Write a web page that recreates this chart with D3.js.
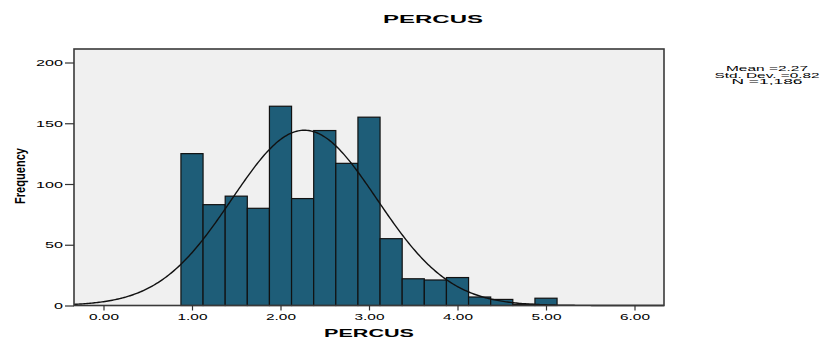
<!DOCTYPE html>
<html>
<head>
<meta charset="utf-8">
<script src="https://cdn.jsdelivr.net/npm/d3@7/dist/d3.min.js"></script>
<style>
  html, body { margin: 0; padding: 0; background: #ffffff; }
  svg { display: block; }
  text { font-family: "Liberation Sans", Arial, sans-serif; fill: #000; }
</style>
</head>
<body>
<svg id="chart" width="825" height="344"></svg>
<script>
// Histogram of PERCUS with fitted normal curve
const binCenters = [1.00, 1.25, 1.50, 1.75, 2.00, 2.25, 2.50, 2.75, 3.00, 3.25, 3.50, 3.75, 4.00, 4.25, 4.50, 4.75, 5.00];
const counts     = [125, 83, 90, 80, 164, 88, 144, 117, 155, 55, 22, 21, 23, 7, 5, 1, 6];
const binWidth = 0.25;
const fitMean = 2.27;
const fitSd = 0.82;
const fitN = 1186;
const xTicks = [0, 1, 2, 3, 4, 5, 6];
const xTickLabels = ["0.00", "1.00", "2.00", "3.00", "4.00", "5.00", "6.00"];
const yTicks = [0, 50, 100, 150, 200];
const statsLines = ["Mean =2.27", "Std. Dev. =0.82", "N =1,186"];

const svg = d3.select("#chart");
const plot = { left: 74, right: 664, top: 49, bottom: 305.5 };

const x = d3.scaleLinear().domain([-1 / 3, 19 / 3]).range([plot.left, plot.right]);
const y = d3.scaleLinear().domain([0, 200]).range([plot.bottom, 62.5]);

// stretched text helper: fixed rendered width
function stretchText(sel, width) {
  sel.attr("textLength", width).attr("lengthAdjust", "spacingAndGlyphs");
}

// plot background
svg.append("rect")
  .attr("x", plot.left).attr("y", plot.top)
  .attr("width", plot.right - plot.left).attr("height", plot.bottom - plot.top)
  .attr("fill", "#f0f0f0");

// bars
svg.append("g").selectAll("rect")
  .data(binCenters.map((c, i) => ({ c, n: counts[i] })))
  .join("rect")
  .attr("x", d => x(d.c - binWidth / 2))
  .attr("width", d => x(d.c + binWidth / 2) - x(d.c - binWidth / 2))
  .attr("y", d => y(d.n))
  .attr("height", d => y(0) - y(d.n))
  .attr("fill", "#1e5d78")
  .attr("stroke", "#111")
  .attr("stroke-width", 1.2);

// normal curve
const pdf = v => Math.exp(-0.5 * ((v - fitMean) / fitSd) ** 2) / (fitSd * Math.sqrt(2 * Math.PI));
const curvePts = d3.range(0, 401).map(i => {
  const v = x.domain()[0] + (x.domain()[1] - x.domain()[0]) * i / 400;
  return [v, fitN * binWidth * pdf(v)];
});
svg.append("path")
  .datum(curvePts)
  .attr("fill", "none")
  .attr("stroke", "#111")
  .attr("stroke-width", 1.4)
  .attr("d", d3.line().x(d => x(d[0])).y(d => y(d[1])));

// frame
svg.append("rect")
  .attr("x", plot.left).attr("y", plot.top)
  .attr("width", plot.right - plot.left).attr("height", plot.bottom - plot.top)
  .attr("fill", "none").attr("stroke", "#3a3a3a").attr("stroke-width", 1.6);

// y axis
const yAxis = svg.append("g").attr("transform", `translate(${plot.left},0)`)
  .call(d3.axisLeft(y).tickValues(yTicks).tickSize(9).tickPadding(2).tickFormat(d3.format("d")));
yAxis.select(".domain").remove();
yAxis.selectAll(".tick line").attr("stroke", "#333").attr("stroke-width", 1.2);
yAxis.selectAll(".tick text")
  .attr("font-size", 9.5).attr("font-family", "Liberation Sans, Arial, sans-serif")
  .attr("fill", "#000")
  .each(function (d) { stretchText(d3.select(this), String(d).length * 9); });

// x axis
const xAxis = svg.append("g").attr("transform", `translate(0,${plot.bottom})`)
  .call(d3.axisBottom(x).tickValues(xTicks).tickSize(5).tickPadding(3)
    .tickFormat((d, i) => xTickLabels[i]));
xAxis.select(".domain").remove();
xAxis.selectAll(".tick line").attr("stroke", "#333").attr("stroke-width", 1.2);
xAxis.selectAll(".tick text")
  .attr("font-size", 9.5).attr("font-family", "Liberation Sans, Arial, sans-serif")
  .attr("fill", "#000")
  .each(function () { stretchText(d3.select(this), 30); });

// title
svg.append("text")
  .attr("x", 433).attr("y", 23.3)
  .attr("text-anchor", "middle")
  .attr("font-size", 11.5).attr("font-weight", "bold")
  .text("PERCUS")
  .call(stretchText, 100);

// x axis title
svg.append("text")
  .attr("x", (plot.left + plot.right) / 2).attr("y", 336.7)
  .attr("text-anchor", "middle")
  .attr("font-size", 11.5).attr("font-weight", "bold")
  .text("PERCUS")
  .call(stretchText, 90);

// y axis title
svg.append("text")
  .attr("transform", "translate(25,176) rotate(-90)")
  .attr("text-anchor", "middle")
  .attr("font-size", 15).attr("font-weight", "bold")
  .text("Frequency")
  .call(stretchText, 56);

// fit statistics
const statWidths = [82, 105, 71];
svg.append("g").selectAll("text")
  .data(statsLines)
  .join("text")
  .attr("x", 767)
  .attr("y", (d, i) => 70.8 + i * 6.8)
  .attr("text-anchor", "middle")
  .attr("font-size", 7.4)
  .text(d => d)
  .each(function (d, i) { stretchText(d3.select(this), statWidths[i]); });
</script>
</body>
</html>
